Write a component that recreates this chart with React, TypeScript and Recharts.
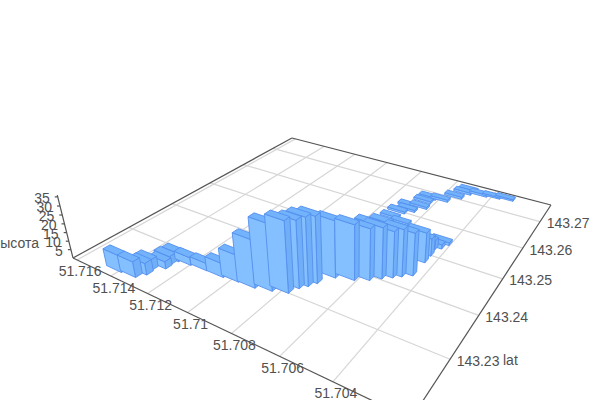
import { ScatterChart, Scatter, XAxis, YAxis } from 'recharts'

const lonValues = [
  51.71427, 51.71356, 51.71333, 51.7134, 51.71302, 51.71307, 51.71296, 51.71238, 51.71159, 51.71077,
  51.71009, 51.70934, 51.70869, 51.70812, 51.70795, 51.70774, 51.70756, 51.70718, 51.70649, 51.70601,
  51.70604, 51.70567, 51.70565, 51.70535, 51.70509, 51.70477, 51.70476, 51.70476, 51.70481, 51.7046,
  51.70445, 51.70659, 51.70723, 51.70718, 51.70686, 51.70702, 51.70652, 51.70659, 51.70654, 51.70598,
  51.70554, 51.70533, 51.70521, 51.70461, 51.70402, 51.70343,
]
const latValues = [
  143.22046, 143.22073, 143.22206, 143.22329, 143.22473, 143.22591, 143.22717, 143.22748, 143.22773, 143.22778,
  143.22813, 143.22827, 143.22904, 143.22992, 143.23165, 143.23276, 143.23409, 143.2367, 143.2377, 143.23891,
  143.24035, 143.24022, 143.24196, 143.24134, 143.2423, 143.24343, 143.24758, 143.24976, 143.25171, 143.2526,
  143.25421, 143.25624, 143.25709, 143.25956, 143.26103, 143.26236, 143.26321, 143.26551, 143.26726, 143.26775,
  143.27027, 143.2727, 143.274, 143.27358, 143.27414, 143.2747,
]
const heightValues = [
  9.9, 9, 6.7, 5.9, 4.2, 4.8, 5.1, 4.5, 4.4, 8.1,
  15.4, 26.9, 36.7, 39, 37.1, 37.8, 36.9, 32, 31, 28.9,
  28.9, 28.7, 28.4, 26.1, 26.7, 24.2, 17.4, 10.3, 5.5, 2.5,
  1.6, 1.3, 1.3, 1.3, 1.3, 1.3, 1.3, 1.4, 1.4, 1.4,
  1.4, 1.4, 1.4, 1.4, 1, 1,
]
const lonTicks = [51.716, 51.714, 51.712, 51.71, 51.708, 51.706, 51.704]
const latTicks = [143.27, 143.26, 143.25, 143.24, 143.23]
const heightTicks = [5, 10, 15, 20, 25, 30, 35]

const LON_MIN = 51.7014
const LON_MAX = 51.71625
const LAT_MIN = 143.219
const LAT_MAX = 143.2771
const HEIGHT_MAX = 36
const BAR_LON = 0.00085
const BAR_LAT = 0.0013

const TEXT = '#505050'
const FONT = '"Liberation Sans", Arial, sans-serif'

// floor homography and vertical vanishing point of the 3d camera
function project(lon: number, lat: number, z = 0) {
  const u = (lon - LON_MIN) / (LON_MAX - LON_MIN)
  const v = (lat - LAT_MIN) / (LAT_MAX - LAT_MIN)
  const k = -0.00209 * z
  const w = 1 + 0.4164 * u + 0.6571 * v + k
  return {
    x: (-307.6 * u + 502 * v + 411 + k * 353) / w,
    y: (-53.6 * u - 79.3 * v + 419 + k * 1380) / w,
    w,
  }
}

const bars = lonValues
  .map((lon, i) => ({ lon, lat: latValues[i], height: heightValues[i], ...project(lon, latValues[i]) }))
  .sort((a, b) => b.w - a.w)

function toPoints(pts: { x: number; y: number }[], dx: number, dy: number) {
  return pts.map((p) => `${p.x + dx},${p.y + dy}`).join(' ')
}

function BarShape({ cx, cy, payload }: any) {
  const { lon, lat, height, x, y } = payload
  const lo = lon - BAR_LON / 2
  const hi = lon + BAR_LON / 2
  const back = lat + BAR_LAT
  const dx = cx - x
  const dy = cy - y

  const frontLeft = project(hi, lat)
  const frontRight = project(lo, lat)
  const backLeft = project(hi, back)
  const backRight = project(lo, back)
  const topFrontLeft = project(hi, lat, height)
  const topFrontRight = project(lo, lat, height)
  const topBackLeft = project(hi, back, height)
  const topBackRight = project(lo, back, height)

  const rightFace = [frontRight, backRight, topBackRight, topFrontRight]
  const leftFace = [frontLeft, backLeft, topBackLeft, topFrontLeft]
  const area = rightFace.reduce((sum, p, i) => {
    const q = rightFace[(i + 1) % 4]
    return sum + p.x * q.y - q.x * p.y
  }, 0)
  const edge = { stroke: '#5590ee', strokeWidth: 0.9, strokeLinejoin: 'round' as const }

  return (
    <g>
      <polygon points={toPoints(area < 0 ? rightFace : leftFace, dx, dy)} fill="#70aff8" {...edge} />
      <polygon points={toPoints([frontLeft, frontRight, topFrontRight, topFrontLeft], dx, dy)} fill="#84c0ff" {...edge} />
      <polygon points={toPoints([topFrontLeft, topFrontRight, topBackRight, topBackLeft], dx, dy)} fill="#72b3fc" {...edge} />
    </g>
  )
}

function TickLabel({ cx, cy, payload }: any) {
  return (
    <text x={cx} y={cy} textAnchor={payload.anchor} dominantBaseline="central" fontSize={14} fontFamily={FONT} fill={TEXT}>
      {payload.label}
    </text>
  )
}

const noDot = () => <g />

const lonLabels = lonTicks.map((t) => {
  const p = project(t, LAT_MIN)
  return { x: p.x + 3, y: p.y + 11.5, label: String(t), anchor: 'middle' }
})
const latLabels = latTicks.map((t) => {
  const p = project(LON_MIN, t)
  return { x: p.x + 28, y: p.y + 1.5, label: String(t), anchor: 'middle' }
})
const heightLabels = heightTicks.map((t) => {
  const p = project(LON_MAX, LAT_MIN, t)
  return { x: p.x - 8, y: p.y + 1, label: String(t), anchor: 'end' }
})
const titleLabels = [
  { x: 503, y: 360, label: 'lat', anchor: 'start' },
  { x: 39, y: 243, label: 'высота', anchor: 'end' },
]

export default function App() {
  const corners = {
    left: project(LON_MAX, LAT_MIN),
    back: project(LON_MAX, LAT_MAX),
    right: project(LON_MIN, LAT_MAX),
    front: project(LON_MIN, LAT_MIN),
  }
  const grid = [
    ...lonTicks.map((t) => [project(t, LAT_MIN), project(t, LAT_MAX)]),
    ...latTicks.map((t) => [project(LON_MIN, t), project(LON_MAX, t)]),
  ]
  const edges = [
    [corners.left, corners.back],
    [corners.back, corners.right],
    [corners.left, corners.front],
    [corners.right, corners.front],
    [corners.left, project(LON_MAX, LAT_MIN, HEIGHT_MAX)],
    ...heightTicks.map((t) => {
      const p = project(LON_MAX, LAT_MIN, t)
      return [p, { x: p.x - 3, y: p.y }]
    }),
  ]

  return (
    <div style={{ position: 'absolute', left: 0, top: 0, width: 600, height: 400 }}>
      <ScatterChart width={600} height={400} margin={{ top: 0, right: 0, bottom: 0, left: 0 }}>
        <XAxis type="number" dataKey="x" domain={[0, 600]} hide allowDataOverflow />
        <YAxis type="number" dataKey="y" domain={[0, 400]} reversed hide allowDataOverflow />
        {grid.map((g, i) => (
          <Scatter key={`g${i}`} data={g} line={{ stroke: '#d6d6d6', strokeWidth: 1.2 }} shape={noDot} isAnimationActive={false} />
        ))}
        {edges.map((e, i) => (
          <Scatter key={`e${i}`} data={e} line={{ stroke: '#555555', strokeWidth: 1.2 }} shape={noDot} isAnimationActive={false} />
        ))}
        <Scatter data={bars} shape={BarShape} isAnimationActive={false} />
        <Scatter data={lonLabels} shape={TickLabel} isAnimationActive={false} />
        <Scatter data={latLabels} shape={TickLabel} isAnimationActive={false} />
        <Scatter data={heightLabels} shape={TickLabel} isAnimationActive={false} />
        <Scatter data={titleLabels} shape={TickLabel} isAnimationActive={false} />
      </ScatterChart>
    </div>
  )
}
